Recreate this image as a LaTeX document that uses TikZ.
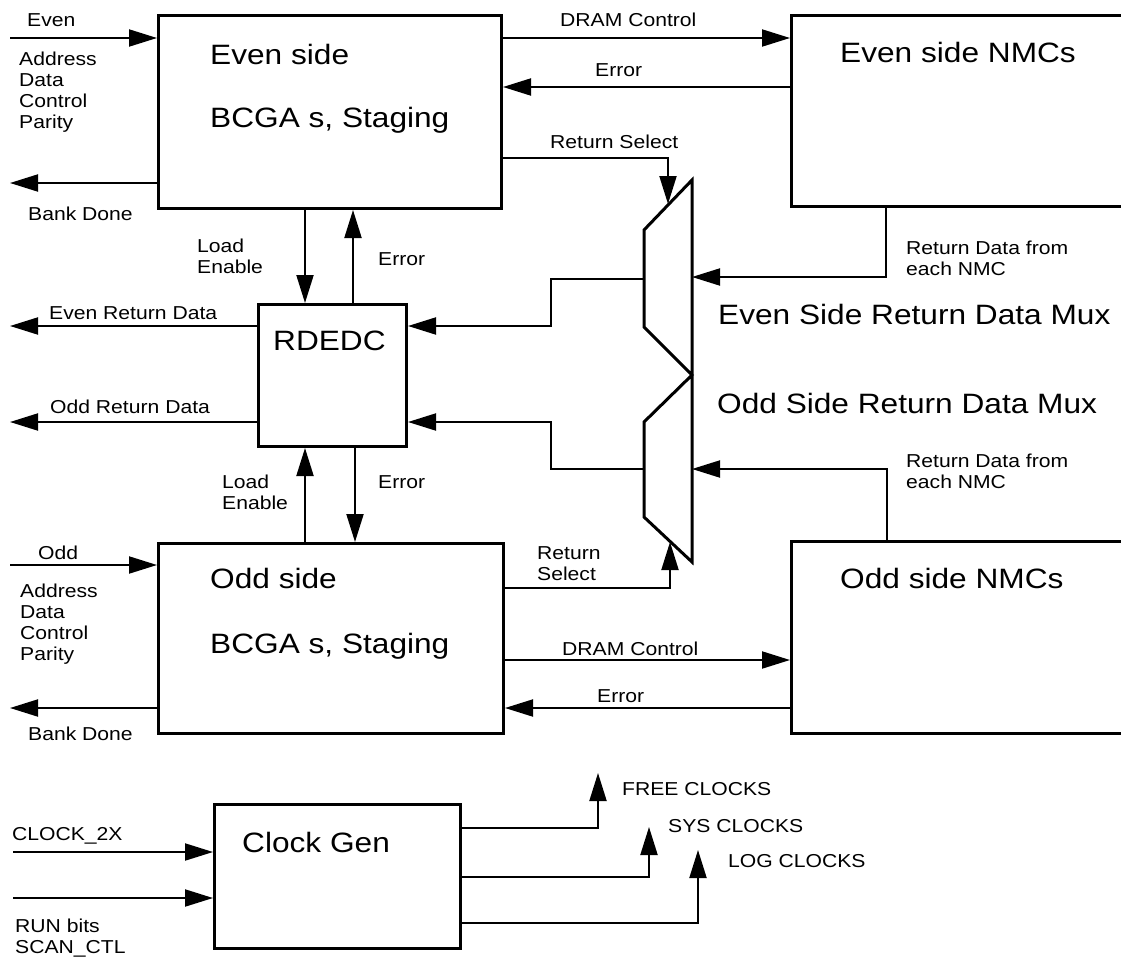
\documentclass[tikz,border=0pt]{standalone}
\usepackage{fontspec}
\setmainfont{Liberation Sans}[FakeStretch=1.13]
\usetikzlibrary{arrows.meta,calc}
\begin{document}
\begin{tikzpicture}[x=1pt,y=-1pt,
  box/.style={draw, line width=3pt, anchor=north west, inner sep=0pt},
  arr/.style={line width=2pt, -{Triangle[length=28pt,width=17pt]}},
  lbl/.style={font=\fontsize{18.7}{21}\selectfont, inner sep=0pt},
  big/.style={font=\fontsize{28}{32}\selectfont, inner sep=0pt}]
\path[use as bounding box, clip] (0,0) rectangle (1121,958);

% boxes
\node[box,minimum width=343pt,minimum height=193pt] (eb) at (157,14) {};
\node[box,minimum width=345pt,minimum height=190pt] (ob) at (157,542) {};
\node[box,minimum width=148pt,minimum height=142pt] (rd) at (257,303) {};
\node[box,minimum width=345pt,minimum height=191pt] (en) at (790,14) {};
\node[box,minimum width=345pt,minimum height=192pt] (on) at (790,540) {};
\node[box,minimum width=246pt,minimum height=144pt] (cg) at (213,803) {};

% mux
\coordinate (m1) at (692,180);
\coordinate (m2) at (644,230);
\coordinate (m3) at (644,327);
\coordinate (m4) at (692,375);
\coordinate (m5) at (644,422);
\coordinate (m6) at (644,517);
\coordinate (m7) at (692,562);
\draw[line width=3pt] (m1)--(m2)--(m3)--(m4)--(m5)--(m6)--(m7)--cycle;

% even side connectors
\coordinate (evenIn) at (10,38);
\draw[arr] (evenIn) -- (eb.west|-evenIn);
\coordinate (bdE) at (10,183);
\draw[arr] (eb.west|-bdE) -- (bdE);
\coordinate (dramE) at (0,38);
\draw[arr] (eb.east|-dramE) -- (en.west|-dramE);
\coordinate (errE) at (0,87);
\draw[arr] (en.west|-errE) -- (eb.east|-errE);
\coordinate (rsE) at (668,158);
\coordinate (rsEtip) at (668,204);
\draw[arr] (eb.east|-rsE) -- (rsE) -- (rsEtip);
\coordinate (leX) at (305,0);
\coordinate (erEX) at (353,0);
\draw[arr] (eb.south-|leX) -- (rd.north-|leX);
\draw[arr] (rd.north-|erEX) -- (eb.south-|erEX);

% RDEDC outputs
\coordinate (erdOut) at (10,326);
\draw[arr] (rd.west|-erdOut) -- (erdOut);
\coordinate (ordOut) at (10,422);
\draw[arr] (rd.west|-ordOut) -- (ordOut);

% mux data paths
\coordinate (rdnE) at (886,277);
\draw[arr] (en.south-|rdnE) -- (rdnE) -- (m1|-rdnE);
\coordinate (moE) at (551,279);
\draw[arr] (m2|-moE) -- (moE) -- (moE|-erdOut) -- (rd.east|-erdOut);
\coordinate (moO) at (551,469);
\draw[arr] (m6|-moO) -- (moO) -- (moO|-ordOut) -- (rd.east|-ordOut);
\coordinate (rdnO) at (887,469);
\draw[arr] (on.north-|rdnO) -- (rdnO) -- (m1|-rdnO);

% odd side connectors
\coordinate (erOX) at (355,0);
\draw[arr] (ob.north-|leX) -- (rd.south-|leX);
\draw[arr] (rd.south-|erOX) -- (ob.north-|erOX);
\coordinate (oddIn) at (10,565);
\draw[arr] (oddIn) -- (ob.west|-oddIn);
\coordinate (bdO) at (10,708);
\draw[arr] (ob.west|-bdO) -- (bdO);
\coordinate (rsO) at (670,588);
\coordinate (rsOtip) at (670,542);
\draw[arr] (ob.east|-rsO) -- (rsO) -- (rsOtip);
\coordinate (dramO) at (0,660);
\draw[arr] (ob.east|-dramO) -- (on.west|-dramO);
\coordinate (errO) at (0,708);
\draw[arr] (on.west|-errO) -- (ob.east|-errO);

% clock gen
\coordinate (clkIn) at (13,852);
\draw[arr] (clkIn) -- (cg.west|-clkIn);
\coordinate (runIn) at (13,898);
\draw[arr] (runIn) -- (cg.west|-runIn);
\coordinate (freeC) at (598,828);
\coordinate (freeT) at (598,773);
\draw[arr] (cg.east|-freeC) -- (freeC) -- (freeT);
\coordinate (sysC) at (649,877);
\coordinate (sysT) at (649,827);
\draw[arr] (cg.east|-sysC) -- (sysC) -- (sysT);
\coordinate (logC) at (698,923);
\coordinate (logT) at (698,850);
\draw[arr] (cg.east|-logC) -- (logC) -- (logT);

% labels: even side
\node[lbl,anchor=base west] (tEven) at (27,27) {Even};
\node[lbl,anchor=north west,align=left] (tAddrE) at (19,51.5) {Address\\Data\\Control\\Parity};
\node[lbl,anchor=base west] (tBdE) at (28,220) {Bank Done};
\node[big,anchor=base west] (tEs) at (210,64) {Even side};
\node[big,anchor=base west] (tEb) at (210,127) {BCGA s, Staging};
\node[lbl,anchor=base west] (tDramE) at (560,26.5) {DRAM Control};
\node[lbl,anchor=base west] (tErrE) at (595,77) {Error};
\node[lbl,anchor=base west] (tRsE) at (550,148) {Return Select};
\node[big,anchor=base west] (tEn) at (840,63) {Even side NMCs};
\node[lbl,anchor=north west,align=left] (tLeE) at (197,238.5) {Load\\Enable};
\node[lbl,anchor=base west] (tErE) at (378,265) {Error};
\node[lbl,anchor=north west,align=left] (tRdE) at (906,240.5) {Return Data from\\each NMC};

% labels: middle
\node[lbl,anchor=base west] (tErd) at (49,319) {Even Return Data};
\node[big,anchor=base west] (tRd) at (273,350) {RDEDC};
\node[lbl,anchor=base west] (tOrd) at (50,413) {Odd Return Data};
\node[big,anchor=base west] (tMuxE) at (718,324) {Even Side Return Data Mux};
\node[big,anchor=base west] (tMuxO) at (717,413) {Odd Side Return Data Mux};
\node[lbl,anchor=north west,align=left] (tLeO) at (222,474.5) {Load\\Enable};
\node[lbl,anchor=base west] (tErO) at (378,488) {Error};
\node[lbl,anchor=north west,align=left] (tRdO) at (906,453.5) {Return Data from\\each NMC};

% labels: odd side
\node[lbl,anchor=base west] (tOdd) at (38,559) {Odd};
\node[lbl,anchor=north west,align=left] (tRsO) at (537,546.5) {Return\\Select};
\node[big,anchor=base west] (tOs) at (210,588) {Odd side};
\node[big,anchor=base west] (tOn) at (840,588) {Odd side NMCs};
\node[lbl,anchor=north west,align=left] (tAddrO) at (20,583.5) {Address\\Data\\Control\\Parity};
\node[big,anchor=base west] (tOb) at (210,653) {BCGA s, Staging};
\node[lbl,anchor=base west] (tBdO) at (28,740) {Bank Done};
\node[lbl,anchor=base west] (tDramO) at (562,655) {DRAM Control};
\node[lbl,anchor=base west] (tErrO) at (597,702) {Error};

% labels: clocks
\node[lbl,anchor=base west] (tFree) at (622,795) {FREE CLOCKS};
\node[lbl,anchor=base west] (tSys) at (668,832) {SYS CLOCKS};
\node[lbl,anchor=base west] (tLog) at (728,867) {LOG CLOCKS};
\node[big,anchor=base west] (tCg) at (242,852) {Clock Gen};
\node[lbl,anchor=base west] (tClk) at (12,840) {CLOCK\_2X};
\node[lbl,anchor=north west,align=left] (tRun) at (15,918.5) {RUN bits\\SCAN\_CTL};
\end{tikzpicture}
\end{document}
